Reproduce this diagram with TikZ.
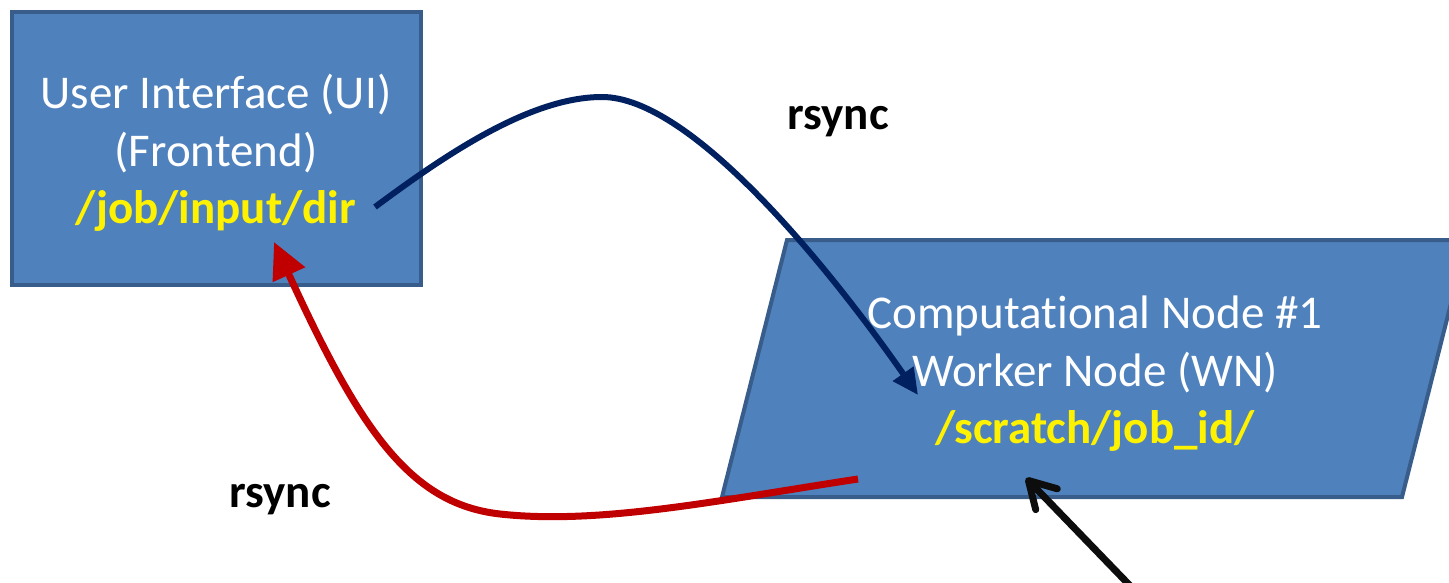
\documentclass[tikz,border=0pt]{standalone}
\usepackage{fontspec}
\setmainfont{Carlito}
\usetikzlibrary{arrows.meta}
\definecolor{boxfill}{HTML}{4F81BD}
\definecolor{boxline}{HTML}{385D8A}
\definecolor{navy}{HTML}{002060}
\definecolor{darkred}{HTML}{C00000}
\definecolor{blk}{HTML}{0D0D0D}
\tikzset{
  shapebox/.style={fill=boxfill,draw=boxline,line width=4pt},
  boxtext/.style={text=white,align=center,font=\fontsize{47}{57.5}\selectfont,inner sep=0pt},
  lbl/.style={font=\fontsize{47}{57.5}\selectfont\bfseries,text=black,inner sep=0pt},
  bluearrow/.style={draw=navy,line width=6pt,-{Triangle[length=26pt,width=24pt]}},
  redarrow/.style={draw=darkred,line width=7pt,-{Triangle[length=36pt,width=34pt]}},
  blackarrow/.style={draw=blk,line width=7pt,line cap=round,-{Straight Barb[length=26pt,width=30pt,round]}}
}
\begin{document}
\begin{tikzpicture}[x=1pt,y=-1pt]
\useasboundingbox (0,0) rectangle (1449,583);
\clip (0,0) rectangle (1449,583);
% User interface box
\node[shapebox,minimum width=409pt,minimum height=273pt,inner sep=0pt] (ui) at (216.5,148.5) {};
\node[boxtext] (uitext) at (216,153) {User Interface (UI)\\(Frontend)\\{\color{yellow}\bfseries /job/input/dir}};
% Worker node parallelogram
\path[shapebox] (787,240) -- (1467,240) -- (1402,497) -- (722,497) -- cycle;
\node[boxtext] (wntext) at (1095,374) {Computat\kern0pt ional Node \#1\\Worker Node (WN)\\{\color{yellow}\bfseries /scratch/job\_id/}};
% labels
\node[lbl] (rs1) at (838,122) {rsync};
\node[lbl] (rs2) at (280,500) {rsync};
% anchor points
\coordinate (bstart) at (375,207);
\coordinate (bpeak) at (602,97);
\coordinate (bend) at (918,395);
\coordinate (rstart) at (858,479);
\coordinate (rlow) at (500,514);
\coordinate (rend) at (274,242);
\coordinate (kstart) at (1140,596);
\coordinate (kend) at (1026,478);
% arrows
\draw[bluearrow] (bstart) .. controls (445,155) and (530,97) .. (bpeak)
  .. controls (690,97) and (825,262) .. (bend);
\draw[redarrow] (rstart) .. controls (720,500) and (600,525) .. (rlow)
  .. controls (410,504) and (360,430) .. (rend);
\draw[blackarrow] (kstart) -- (kend);
\end{tikzpicture}
\end{document}
